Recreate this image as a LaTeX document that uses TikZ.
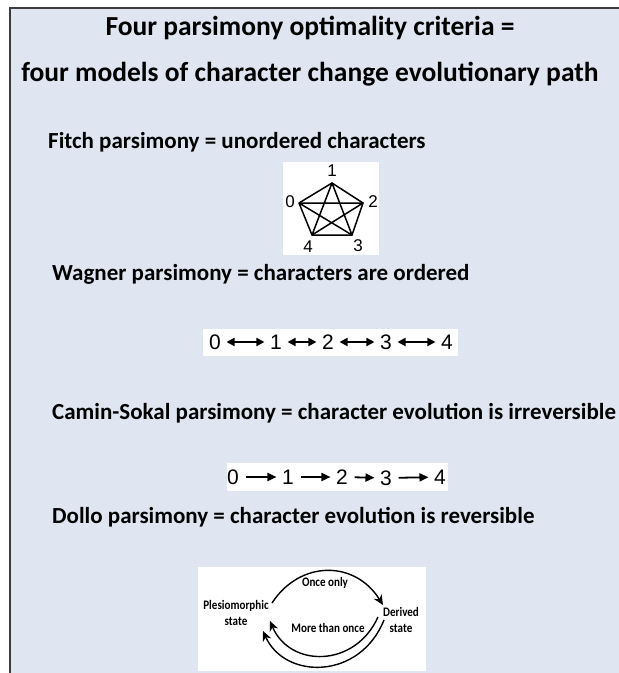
\documentclass[tikz,border=0pt]{standalone}
\usepackage{fontspec}
\setmainfont{Carlito}
\newfontfamily\arialf{Liberation Sans}
\usetikzlibrary{arrows.meta}
\definecolor{panel}{RGB}{223,230,242}
\definecolor{frame}{RGB}{60,60,60}
\tikzset{
  titletext/.style={font=\fontsize{27.5}{32}\selectfont\bfseries, inner sep=0pt},
  headtext/.style={font=\fontsize{23}{27}\selectfont\bfseries, inner sep=0pt, anchor=west},
  whitebox/.style={fill=white, draw=none},
  digit/.style={font=\arialf\fontsize{21}{24}\selectfont, inner sep=1.5pt},
  smalldigit/.style={font=\arialf\fontsize{17}{19}\selectfont, inner sep=0pt},
  pedge/.style={line width=1.5pt, line join=round},
  darrow/.style={{Triangle[length=8pt,width=8pt]}-{Triangle[length=8pt,width=8pt]}, line width=1.8pt, shorten <=4pt, shorten >=4pt},
  sarrow/.style={-{Triangle[length=9pt,width=8pt]}, line width=1.8pt, shorten <=5pt, shorten >=4pt},
  dlabel/.style={font=\fontsize{13}{15}\selectfont\bfseries, inner sep=0pt, align=center, xscale=0.85},
  darc/.style={line width=1.4pt, -{Stealth[length=10pt,width=9pt]}},
}
\begin{document}
\begin{tikzpicture}[x=1pt,y=-1pt]
\useasboundingbox (0,0) rectangle (619,673);
\fill[white] (0,0) rectangle (619,673);
\fill[panel] (10,8) rectangle (625,680);
\draw[frame, line width=1.5pt] (10,680) -- (10,8) -- (625,8);

% titles
\node[titletext] (t1) at (310,28) {Four parsimony optimality criteria =};
\node[titletext] (t2) at (310,74) {four models of character change evolutionary path};

% headings
\node[headtext] (h1) at (48,142) {Fitch parsimony = unordered characters};
\node[headtext] (h2) at (52,274) {Wagner parsimony = characters are ordered};
\node[headtext] (h3) at (52,413) {Camin-Sokal parsimony = character evolution is irreversible};
\node[headtext] (h4) at (52,517) {Dollo parsimony = character evolution is reversible};

% Fitch pentagon
\node[whitebox, minimum width=96pt, minimum height=93pt] (fbox) at (330.5,208.5) {};
\coordinate (p1) at (332,183);
\coordinate (p2) at (363,203);
\coordinate (p3) at (352,235);
\coordinate (p4) at (312,235);
\coordinate (p0) at (299,203);
\draw[pedge] (p0) -- (p1) -- (p2) -- (p3) -- (p4) -- cycle;
\draw[pedge] (p0) -- (p2) -- (p4) -- (p1) -- (p3) -- (p0);
\node[smalldigit] (l1) at (332,171) {1};
\node[smalldigit] (l2) at (373,202) {2};
\node[smalldigit] (l3) at (358,246) {3};
\node[smalldigit] (l4) at (308,247) {4};
\node[smalldigit] (l0) at (290,202) {0};

% Wagner
\node[whitebox, minimum width=255pt, minimum height=27pt] (wbox) at (330.5,342.5) {};
\node[digit] (w0) at (215,342) {0};
\node[digit] (w1) at (276,342) {1};
\node[digit] (w2) at (328,342) {2};
\node[digit] (w3) at (386,342) {3};
\node[digit] (w4) at (447,342) {4};
\draw[darrow] (w0) -- (w1);
\draw[darrow] (w1) -- (w2);
\draw[darrow] (w2) -- (w3);
\draw[darrow] (w3) -- (w4);

% Camin-Sokal
\node[whitebox, minimum width=221pt, minimum height=28pt] (cbox) at (337.5,476.5) {};
\node[digit] (c0) at (233,477) {0};
\node[digit] (c1) at (288,477) {1};
\node[digit] (c2) at (342,477) {2};
\node[digit] (c3) at (386,478) {3};
\node[digit] (c4) at (440,477) {4};
\draw[sarrow] (c0) -- (c1);
\draw[sarrow] (c1) -- (c2);
\draw[sarrow] (c2) -- (c3);
\draw[sarrow] (c3) -- (c4);

% Dollo
\node[whitebox, minimum width=228pt, minimum height=104pt] (dbox) at (312,619) {};
\node[dlabel] (ple) at (236,613) {Plesiomorphic\\[1pt]state};
\node[dlabel] (der) at (401,620) {Derived\\[1pt]state};
\node[dlabel] (once) at (325,583) {Once only};
\node[dlabel] (more) at (328,628) {More than once};
\coordinate (a1s) at (272,603);
\coordinate (a1e) at (383,605);
\draw[darc] (a1s) .. controls (300,560) and (355,560) .. (a1e);
\coordinate (a2s) at (378,617);
\coordinate (a2e) at (270,621);
\draw[darc] (a2s) .. controls (355,668) and (290,668) .. (a2e);
\coordinate (a3s) at (384,620);
\coordinate (a3e) at (263,631);
\draw[darc] (a3s) .. controls (360,680) and (285,680) .. (a3e);
\end{tikzpicture}
\end{document}
